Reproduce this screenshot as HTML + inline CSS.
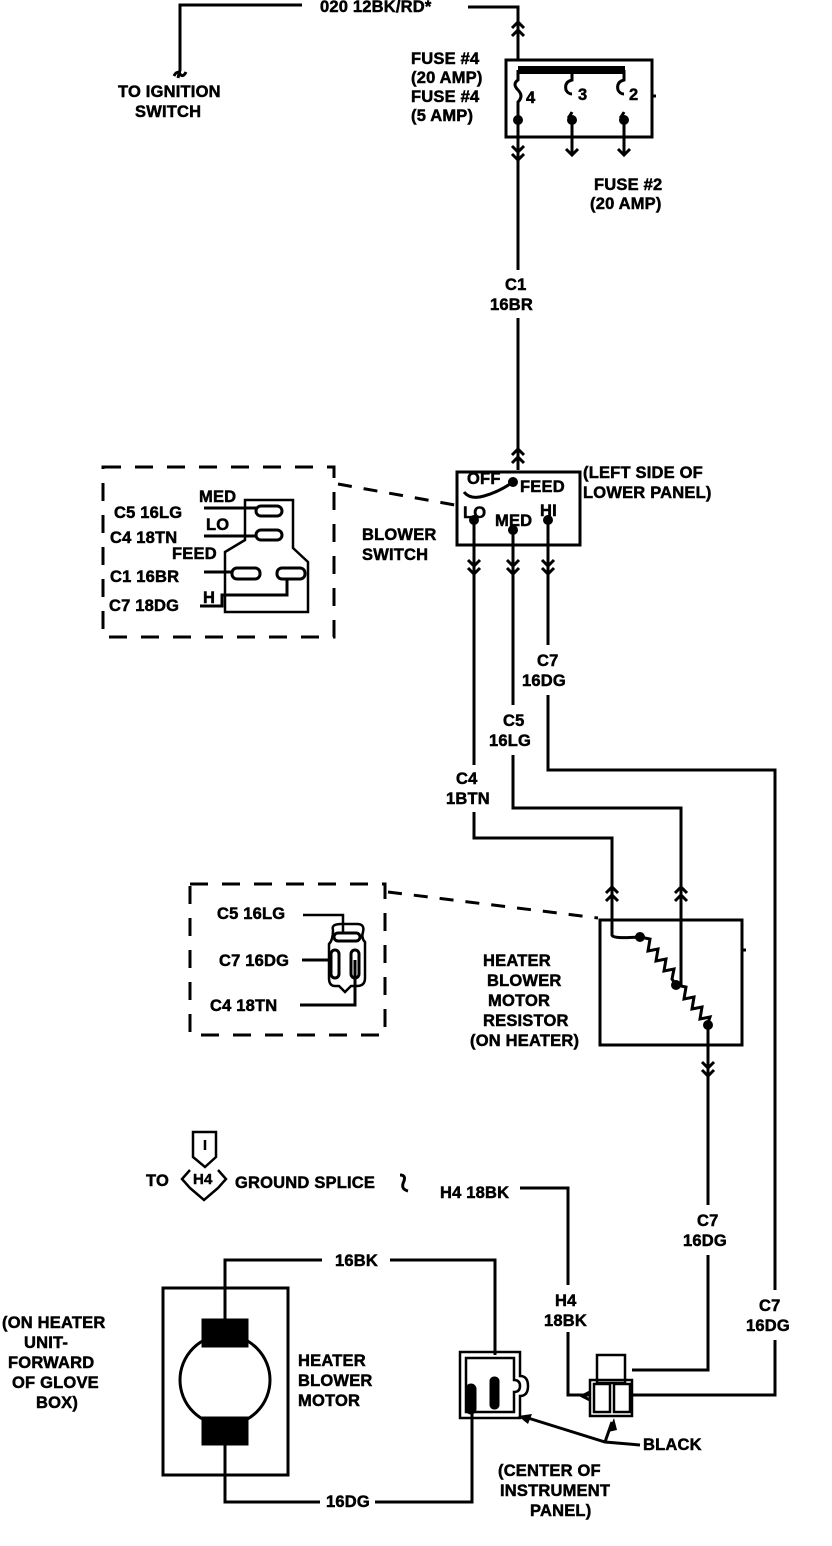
<!DOCTYPE html>
<html><head><meta charset="utf-8"><style>
html,body{margin:0;padding:0;background:#fff;}
svg{display:block;}
text{font-family:"Liberation Sans",sans-serif;font-weight:bold;font-size:16.5px;fill:#000;stroke:#000;stroke-width:0.5px;letter-spacing:0.2px;}
</style></head><body>
<svg width="832" height="1546" viewBox="0 0 832 1546" xmlns="http://www.w3.org/2000/svg">
<g fill="none" stroke="#000" stroke-width="3">
<polyline points="178,78 180,70 180,5 302,5"/>
<path d="M174,76 q3,-6 6,-2 q3,4 6,-2"/>
<polyline points="468,7 518,7 518,60"/>
<path d="M512,28 L518,22 L524,28 M512,36 L518,30 L524,36"/>
<rect x="506" y="60" width="146" height="77"/>
<line x1="518" y1="70" x2="625" y2="70" stroke-width="8"/>
<path d="M518,70 v10 q-6,4 0,10 q6,6 0,12 v18"/>
<path d="M572,70 v10 q-8,2 -6,10 q2,4 6,4"/>
<path d="M572,112 q-2,4 -4,6 M572,120 v35"/>
<path d="M624,70 v10 q-8,2 -6,10 q2,4 6,4"/>
<path d="M624,112 q-2,4 -4,6 M624,120 v35"/>
<path d="M518,120 V270 M518,318 V470"/>
<path d="M512,146 L518,152 L524,146 M512,154 L518,160 L524,154"/>
<path d="M566,149 L572,155 L578,149 M618,149 L624,155 L630,149"/>
<line x1="652" y1="96" x2="656" y2="96"/>
<path d="M512,455 L518,449 L524,455 M512,463 L518,457 L524,463"/>
<rect x="457" y="472" width="123" height="73"/>
<path d="M464,492 q6,8 20,4 q14,-4 26,-12"/>
<path d="M474,520 V765 M513,530 V705 M548,520 V645"/>
<path d="M468,560 L474,566 L480,560 M468,568 L474,574 L480,568"/>
<path d="M507,560 L513,566 L519,560 M507,568 L513,574 L519,568"/>
<path d="M542,560 L548,566 L554,560 M542,568 L548,574 L554,568"/>
<polyline points="474,812 474,838 612,838 612,935"/>
<polyline points="513,755 513,808 681,808 681,985"/>
<polyline points="548,695 548,770 775,770 775,1290"/>
<polyline points="775,1340 775,1395 632,1395"/>
<path d="M606,893 L612,887 L618,893 M606,901 L612,895 L618,901"/>
<path d="M675,893 L681,887 L687,893 M675,901 L681,895 L687,901"/>
<rect x="600" y="920" width="142" height="125"/>
<path d="M612,935 q0,4 28,2"/>
<path d="M640,937 l10,2 l-2,12 l10,-2 l-2,12 l10,-2 l-2,12 l10,-2 l-2,10 l4,6"/>
<path d="M676,985 l10,2 l-2,12 l10,-2 l-2,12 l10,-2 l-2,12 l10,-2 l-2,6"/>
<path d="M708,1025 V1205 M708,1255 V1370 L632,1370"/>
<path d="M702,1062 L708,1068 L714,1062 M702,1070 L708,1076 L714,1070"/>
<line x1="742" y1="950" x2="746" y2="950"/>
<rect x="103" y="467" width="231" height="170" stroke-dasharray="18,14"/>
<line x1="338" y1="484" x2="455" y2="505" stroke-dasharray="14,12"/>
<rect x="190" y="884" width="195" height="151" stroke-dasharray="18,14"/>
<line x1="388" y1="892" x2="598" y2="918" stroke-dasharray="14,12"/>
<path d="M245,500 H293 V548 L308,562 V612 H225 V552 L245,540 Z" stroke-width="2.5"/>
<rect x="256" y="506" width="26" height="10" rx="5"/>
<rect x="256" y="530" width="26" height="10" rx="5"/>
<rect x="232" y="568" width="28" height="11" rx="5"/>
<rect x="277" y="568" width="28" height="11" rx="5"/>
<line x1="204" y1="508" x2="256" y2="508"/>
<line x1="204" y1="536" x2="256" y2="536"/>
<line x1="204" y1="572" x2="232" y2="572"/>
<path d="M200,606 H222 V595 H287 V578"/>
<path d="M343,932 V915 H303" stroke-width="2.5"/>
<path d="M333,930 q-2,-6 8,-6 h16 q8,0 6,8 q-2,6 2,10 V978 q0,8 -8,8 h-6 l-6,6 l-6,-6 h-4 q-6,0 -6,-8 V944 q4,-4 4,-14 Z" stroke-width="2.5"/>
<rect x="334" y="933" width="26" height="8" rx="4"/>
<rect x="331" y="950" width="8" height="28" rx="4"/>
<rect x="351" y="950" width="8" height="28" rx="4"/>
<line x1="302" y1="960" x2="331" y2="960"/>
<polyline points="355,960 355,1005 300,1005"/>
<path d="M193,1132 h23 v25 l-11,10 l-12,-10 z M205,1140 v10" stroke-width="2.5"/>
<path d="M190,1170 l-8,9 l8,9 M218,1170 l8,9 l-8,9 M190,1188 l14,12 l14,-12" stroke-width="2.5"/>
<path d="M400,1175 q6,0 4,6 q-4,8 4,10"/>
<polyline points="520,1188 568,1188 568,1285"/>
<polyline points="568,1332 568,1395 590,1395"/>
<rect x="163" y="1288" width="125" height="187"/>
<circle cx="225" cy="1380" r="45"/>
<rect x="203" y="1320" width="44" height="26" fill="#000"/>
<rect x="203" y="1418" width="44" height="26" fill="#000"/>
<polyline points="225,1320 225,1260 322,1260"/>
<polyline points="390,1260 495,1260 495,1355"/>
<polyline points="225,1444 225,1502 320,1502"/>
<polyline points="375,1502 472,1502 472,1400"/>
<path d="M460,1352 h60 v24 q8,0 8,10 q0,10 -8,10 v22 h-60 z" stroke-width="2.5"/>
<path d="M466,1358 h48 v22 q6,0 6,6 q0,6 -6,6 v20 h-48 z" stroke-width="2.5"/>
<rect x="467" y="1385" width="8" height="28" rx="4" fill="#000"/>
<rect x="491" y="1378" width="7" height="30" rx="3" fill="#000"/>
<rect x="597" y="1355" width="28" height="28" stroke-width="2.5"/>
<path d="M590,1380 h42 v36 h-42 z" stroke-width="2.5"/>
<rect x="594" y="1384" width="16" height="28" stroke-width="2.5"/>
<rect x="614" y="1384" width="16" height="28" stroke-width="2.5"/>
<path d="M590,1392 l-8,4 l8,4"/>
<polyline points="640,1445 605,1442 528,1418"/>
<line x1="605" y1="1442" x2="612" y2="1422"/>
</g>
<polygon points="518,1416 532,1414 528,1424" fill="#000"/>
<polygon points="614,1418 608,1432 617,1430" fill="#000"/>
<circle cx="518" cy="120" r="5" fill="#000"/>
<circle cx="572" cy="120" r="5" fill="#000"/>
<circle cx="624" cy="120" r="5" fill="#000"/>
<circle cx="513" cy="482" r="5" fill="#000"/>
<circle cx="474" cy="520" r="5" fill="#000"/>
<circle cx="513" cy="530" r="5" fill="#000"/>
<circle cx="548" cy="520" r="5" fill="#000"/>
<circle cx="640" cy="937" r="5" fill="#000"/>
<circle cx="676" cy="985" r="5" fill="#000"/>
<circle cx="708" cy="1025" r="5" fill="#000"/>
<text x="320" y="12">020 12BK/RD*</text>
<text x="118" y="97">TO IGNITION</text>
<text x="135" y="117">SWITCH</text>
<text x="411" y="64">FUSE #4</text>
<text x="411" y="83">(20 AMP)</text>
<text x="411" y="102">FUSE #4</text>
<text x="411" y="121">(5 AMP)</text>
<text x="526" y="103">4</text>
<text x="578" y="100">3</text>
<text x="629" y="100">2</text>
<text x="594" y="190">FUSE #2</text>
<text x="590" y="209">(20 AMP)</text>
<text x="505" y="290">C1</text>
<text x="490" y="310">16BR</text>
<text x="467" y="484">OFF</text>
<text x="520" y="492">FEED</text>
<text x="463" y="518">LO</text>
<text x="495" y="526">MED</text>
<text x="540" y="516">HI</text>
<text x="583" y="478">(LEFT SIDE OF</text>
<text x="583" y="498">LOWER PANEL)</text>
<text x="362" y="540">BLOWER</text>
<text x="362" y="560">SWITCH</text>
<text x="199" y="502">MED</text>
<text x="114" y="518">C5 16LG</text>
<text x="206" y="530">LO</text>
<text x="110" y="543">C4 18TN</text>
<text x="172" y="559">FEED</text>
<text x="110" y="582">C1 16BR</text>
<text x="203" y="603">H</text>
<text x="109" y="611">C7 18DG</text>
<text x="537" y="666">C7</text>
<text x="522" y="686">16DG</text>
<text x="503" y="726">C5</text>
<text x="489" y="746">16LG</text>
<text x="456" y="784">C4</text>
<text x="446" y="804">1BTN</text>
<text x="217" y="919">C5 16LG</text>
<text x="219" y="966">C7 16DG</text>
<text x="210" y="1011">C4 18TN</text>
<text x="483" y="966">HEATER</text>
<text x="487" y="986">BLOWER</text>
<text x="488" y="1006">MOTOR</text>
<text x="483" y="1026">RESISTOR</text>
<text x="470" y="1046">(ON HEATER)</text>
<text x="146" y="1186">TO</text>
<text x="193" y="1184" style="font-size:15px">H4</text>
<text x="235" y="1188">GROUND SPLICE</text>
<text x="440" y="1198">H4 18BK</text>
<text x="697" y="1226">C7</text>
<text x="683" y="1246">16DG</text>
<text x="555" y="1306">H4</text>
<text x="544" y="1326">18BK</text>
<text x="759" y="1311">C7</text>
<text x="746" y="1331">16DG</text>
<text x="335" y="1266">16BK</text>
<text x="326" y="1507">16DG</text>
<text x="2" y="1328">(ON HEATER</text>
<text x="24" y="1348">UNIT-</text>
<text x="8" y="1368">FORWARD</text>
<text x="12" y="1388">OF GLOVE</text>
<text x="36" y="1408">BOX)</text>
<text x="298" y="1366">HEATER</text>
<text x="298" y="1386">BLOWER</text>
<text x="298" y="1406">MOTOR</text>
<text x="643" y="1450">BLACK</text>
<text x="498" y="1476">(CENTER OF</text>
<text x="500" y="1496">INSTRUMENT</text>
<text x="530" y="1516">PANEL)</text>
</svg>
</body></html>
